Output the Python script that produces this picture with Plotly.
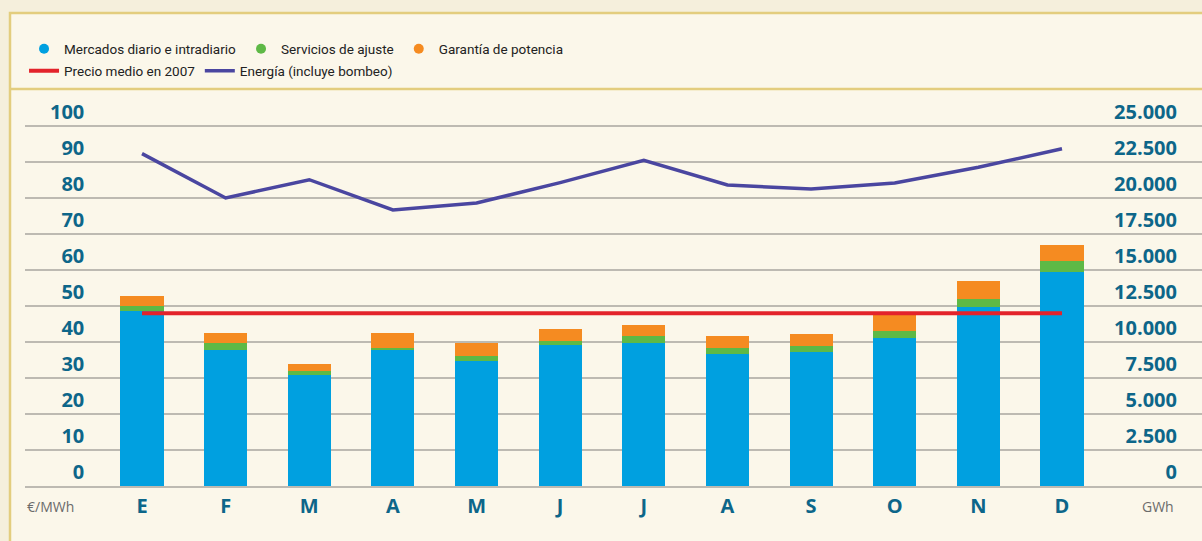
import plotly.graph_objects as go

# ─── Data ────────────────────────────────────────────────────────────────────
MESES = ["E", "F", "M", "A", "M", "J", "J", "A", "S", "O", "N", "D"]
MERCADOS = [48.5, 37.8, 30.8, 37.8, 34.7, 39.2, 39.7, 36.7, 37.2, 41.1, 49.7, 59.4]
SERVICIOS = [1.5, 1.9, 1.1, 0.5, 1.4, 1.1, 2.0, 1.6, 1.7, 2.0, 2.2, 3.1]
GARANTIA = [2.8, 2.8, 2.0, 4.2, 3.6, 3.3, 3.0, 3.4, 3.3, 4.4, 5.0, 4.4]
PRECIO_MEDIO_2007 = 48.0
ENERGIA = [23080, 20000, 21270, 19170, 19650, 21070, 22620, 20900, 20625, 21040, 22130, 23420]

TICKS_EUR = [0, 10, 20, 30, 40, 50, 60, 70, 80, 90, 100]
TICKS_GWH = [0, 2500, 5000, 7500, 10000, 12500, 15000, 17500, 20000, 22500, 25000]

# ─── Colours ─────────────────────────────────────────────────────────────────
C_MERC = "#00A0E0"
C_SERV = "#5EB946"
C_GAR = "#F58B21"
C_PREC = "#E3232B"
C_ENER = "#4A46A0"
C_TICK = "#0D6689"
C_GRID = "#BDBAB2"
C_PANEL = "#FBF7EA"
C_OUTER = "#F5EFDC"
C_BORDER = "#E3CD7E"

x = list(range(len(MESES)))
TICK_FONT = dict(family="Open Sans", size=20, color=C_TICK, weight="bold")
LEG_FONT = dict(family="Roboto", size=13.5, color="#222222")

fig = go.Figure()

for name, vals, col in [
    ("Mercados diario e intradiario", MERCADOS, C_MERC),
    ("Servicios de ajuste", SERVICIOS, C_SERV),
    ("Garantía de potencia", GARANTIA, C_GAR),
]:
    fig.add_trace(go.Bar(x=x, y=vals, marker_color=col, marker_line_width=0,
                         name=name, showlegend=False))
    # round legend markers like the original
    fig.add_trace(go.Scatter(x=[None], y=[None], mode="markers", name=name,
                             marker=dict(color=col, size=10), legend="legend"))

fig.add_trace(go.Scatter(
    x=x, y=[PRECIO_MEDIO_2007] * len(x), mode="lines", name="Precio medio en 2007",
    line=dict(color=C_PREC, width=4), legend="legend2",
))
fig.add_trace(go.Scatter(
    x=x, y=ENERGIA, mode="lines", name="Energía (incluye bombeo)", yaxis="y2",
    line=dict(color=C_ENER, width=3.5), legend="legend2",
))

pad = "\u2007"
fig.update_layout(
    width=1202, height=541,
    barmode="stack", bargap=0.485,
    separators=",.",
    paper_bgcolor=C_OUTER, plot_bgcolor="rgba(0,0,0,0)",
    margin=dict(l=25, r=0, t=90, b=55),
    xaxis=dict(
        range=[-1.399, 12.674], tickvals=x, ticktext=MESES, showgrid=False,
        zeroline=False, showline=True, linecolor=C_GRID, linewidth=2,
        tickfont=dict(family="Open Sans", size=20, color=C_TICK, weight="bold"),
        ticklabelstandoff=1,
    ),
    yaxis=dict(
        range=[-0.02, 110], tickvals=TICKS_EUR,
        ticktext=[pad * (3 - len(str(v))) + str(v) for v in TICKS_EUR],
        ticklabelposition="inside top", ticklabelstandoff=22,
        gridcolor=C_GRID, gridwidth=2, zeroline=False, tickfont=TICK_FONT,
    ),
    yaxis2=dict(
        range=[-5, 27500], tickvals=TICKS_GWH, tickformat=",d", overlaying="y",
        side="right", showgrid=False, zeroline=False,
        ticklabelposition="inside top", ticklabelstandoff=22, tickfont=TICK_FONT,
    ),
    legend=dict(orientation="h", xref="container", yref="container",
                x=0.02, y=1 - 49 / 541, yanchor="middle", xanchor="left",
                font=LEG_FONT, bgcolor="rgba(0,0,0,0)", itemwidth=30,
                traceorder="normal"),
    legend2=dict(orientation="h", xref="container", yref="container",
                 x=0.02, y=1 - 71 / 541, yanchor="middle", xanchor="left",
                 font=LEG_FONT, bgcolor="rgba(0,0,0,0)", itemwidth=30,
                 traceorder="normal"),
    shapes=[
        dict(type="rect", xref="paper", yref="paper", layer="below",
             x0=-15 / 1177, x1=1.01, y0=-0.2, y1=(486 - 13) / 396,
             fillcolor=C_PANEL, line=dict(color=C_BORDER, width=2.5)),
        dict(type="line", xref="paper", yref="paper", layer="below",
             x0=-15 / 1177, x1=1.01, y0=(486 - 89) / 396, y1=(486 - 89) / 396,
             line=dict(color=C_BORDER, width=2.5)),
    ],
    annotations=[
        dict(text="€/MWh", xref="paper", yref="paper", x=0, y=-20 / 396,
             xanchor="left", yanchor="middle", showarrow=False,
             font=dict(family="Open Sans", size=14, color="#6B6B6B")),
        dict(text="GWh", xref="paper", yref="paper", x=(1176 - 25) / 1177, y=-20 / 396,
             xanchor="right", yanchor="middle", showarrow=False,
             font=dict(family="Open Sans", size=14, color="#6B6B6B")),
    ],
)

fig.write_html("out.html", config={"displayModeBar": False},
               post_script="document.body.style.margin = '0';")
